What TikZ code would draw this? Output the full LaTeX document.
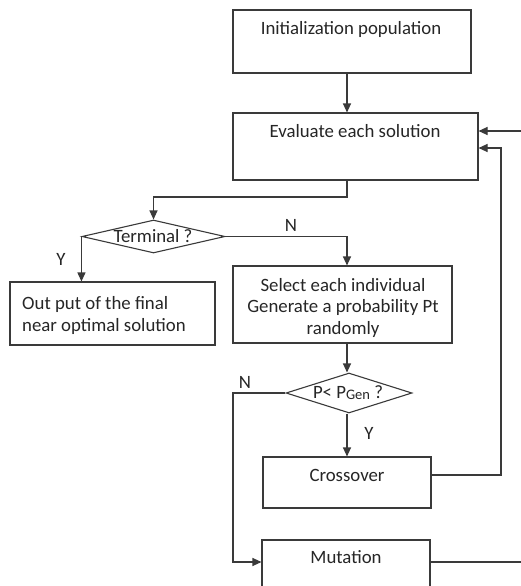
\documentclass[tikz,border=0pt]{standalone}
\usepackage{fontspec}
\setmainfont{Carlito}
\usetikzlibrary{arrows.meta,shapes.geometric}
\definecolor{ln}{HTML}{3A3A3A}
\definecolor{tx}{HTML}{262626}
\tikzset{
  box/.style={draw=ln,line width=1.1pt,rectangle,inner sep=0pt},
  dia/.style={draw=ln,line width=1.1pt,diamond,inner sep=0pt,text=tx},
  lbl/.style={text=tx,inner sep=0pt,font=\fontsize{18.8}{21.5}\selectfont},
  conn/.style={draw=ln,line width=1.1pt},
  arr/.style={conn,-{Triangle[length=9pt,width=8pt]}}
}
\begin{document}
\begin{tikzpicture}[x=1pt,y=-1pt]
\useasboundingbox (0,0) rectangle (521,586);
\fill[white] (0,0) rectangle (521,586);
% boxes
\node[box,minimum width=238pt,minimum height=63pt] (init) at (352,41.5) {};
\node[box,minimum width=245pt,minimum height=67pt] (eval) at (355.5,146.5) {};
\node[box,minimum width=205pt,minimum height=63pt] (out) at (112.5,313.5) {};
\node[box,minimum width=219pt,minimum height=77pt] (sel) at (342.5,304.5) {};
\node[box,minimum width=168pt,minimum height=51pt] (cross) at (347,482.5) {};
\node[box,minimum width=168pt,minimum height=60pt] (mut) at (346,570) {};
% diamonds
\node[dia,minimum width=143pt,minimum height=33pt] (term) at (153.5,236.5) {};
\node[dia,minimum width=126pt,minimum height=40pt] (pg) at (349,393) {};
% texts
\node[lbl] (tinit) at (351,29) {Initialization population};
\node[lbl] (teval) at (355,131) {Evaluate each solution};
\node[lbl] (tterm) at (153,236) {Terminal ?};
\node[lbl,anchor=west,align=left] (tout) at (22,315.5) {Out put of the final\\near optimal solution};
\node[lbl,align=center] (tsel) at (343,307.5) {Select each individual\\Generate a probability Pt\\randomly};
\node[lbl] (tpg) at (348,393) {P<~P\raisebox{-1pt}{\fontsize{14.5}{16}\selectfont Gen}~?};
\node[lbl] (tcross) at (347,475) {Crossover};
\node[lbl] (tmut) at (346,557) {Mutation};
\node[lbl] (n1) at (291,225) {N};
\node[lbl] (y1) at (61,259) {Y};
\node[lbl] (n2) at (245,382) {N};
\node[lbl] (y2) at (369,433) {Y};
% helper coordinates
\coordinate (ex) at (347,0);
\coordinate (eb) at (347,197);
\coordinate (rt1) at (521,131);
\coordinate (rx) at (501,148);
\coordinate (rt2) at (521,562);
\coordinate (lx) at (233,393);
% connectors
\draw[arr] (init.south -| ex) -- (eval.north -| ex);
\draw[arr] (eval.south -| ex) -- (eb) -| (term.north);
\draw[arr] (term.west) -- (out.north -| term.west);
\draw[arr] (term.east) -| (sel.north -| ex);
\draw[arr] (sel.south -| ex) -- (pg.north -| ex);
\draw[arr] (pg.south -| ex) -- (cross.north -| ex);
\draw[arr] (pg.west) -- (lx) |- (mut.west |- rt2);
\draw[arr] (rt1) -- (eval.east |- rt1);
\draw[arr] (cross.east |- 0,475) -| (rx) -- (eval.east |- rx);
\draw[conn] (mut.east |- rt2) -- (rt2);
\end{tikzpicture}
\end{document}
